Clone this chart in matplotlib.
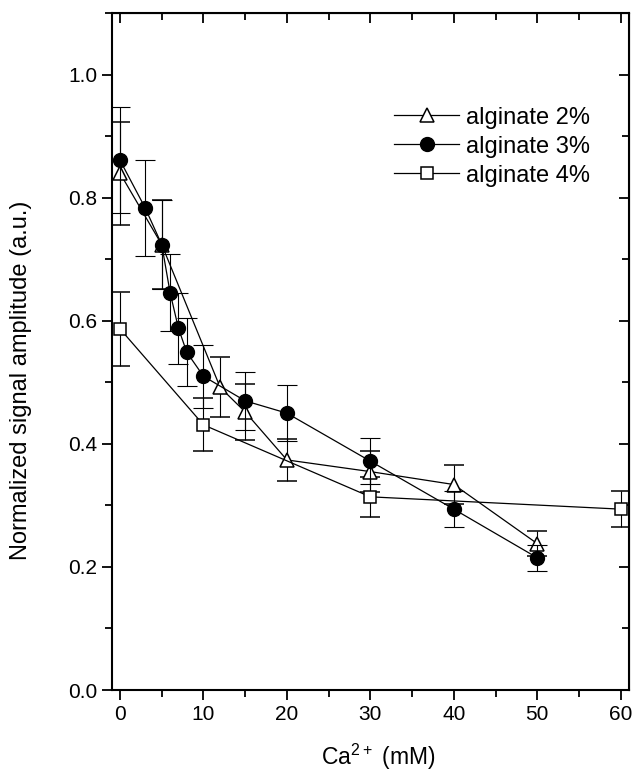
import numpy as np
import matplotlib
matplotlib.use("Agg")
import matplotlib.pyplot as plt
from matplotlib.ticker import MultipleLocator

plt.rcParams['font.family'] = ['Liberation Sans', 'DejaVu Sans']
plt.rcParams['mathtext.fontset'] = 'custom'
plt.rcParams['mathtext.rm'] = 'Liberation Sans'

# alginate 2% (open triangles)
x2 = [0, 5, 12, 15, 20, 30, 40, 50]
y2 = [0.840, 0.724, 0.492, 0.452, 0.374, 0.355, 0.334, 0.238]
e2 = [0.084, 0.072, 0.049, 0.045, 0.034, 0.033, 0.031, 0.020]

# alginate 3% (filled circles)
x3 = [0, 3, 5, 6, 7, 8, 10, 15, 20, 30, 40, 50]
y3 = [0.861, 0.784, 0.724, 0.646, 0.588, 0.549, 0.510, 0.470, 0.450, 0.372, 0.294, 0.215]
e3 = [0.086, 0.078, 0.072, 0.063, 0.058, 0.055, 0.051, 0.047, 0.045, 0.037, 0.029, 0.021]

# alginate 4% (open squares)
x4 = [0, 10, 30, 60]
y4 = [0.587, 0.431, 0.314, 0.294]
e4 = [0.060, 0.043, 0.032, 0.029]

labels = ['alginate 2%', 'alginate 3%', 'alginate 4%']

fig = plt.figure(figsize=(6.36, 7.72), dpi=100)
ax = fig.add_axes([0.1756, 0.1062, 0.8134, 0.8766])

ax.errorbar(x2, y2, yerr=e2, fmt='-', marker='^', ms=10, mfc='white', mec='black',
            mew=1.1, color='black', lw=0.9, ecolor='black', elinewidth=0.8,
            capsize=7, capthick=0.8, label=labels[0], zorder=3)
ax.errorbar(x3, y3, yerr=e3, fmt='-', marker='o', ms=10, mfc='black', mec='black',
            color='black', lw=0.9, ecolor='black', elinewidth=0.8,
            capsize=7, capthick=0.8, label=labels[1], zorder=4)
ax.errorbar(x4, y4, yerr=e4, fmt='-', marker='s', ms=8, mfc='white', mec='black',
            mew=1.1, color='black', lw=0.9, ecolor='black', elinewidth=0.8,
            capsize=7, capthick=0.8, label=labels[2], zorder=3)

ax.set_xlim(-1, 61)
ax.set_ylim(0, 1.1)
ax.xaxis.set_major_locator(MultipleLocator(10))
ax.xaxis.set_minor_locator(MultipleLocator(5))
ax.yaxis.set_major_locator(MultipleLocator(0.2))
ax.yaxis.set_minor_locator(MultipleLocator(0.1))
ax.yaxis.set_major_formatter(matplotlib.ticker.FormatStrFormatter('%.1f'))

for s in ax.spines.values():
    s.set_linewidth(1.5)
ax.tick_params(which='both', direction='out', width=1.3, labelsize=15)
ax.tick_params(which='major', length=7)
ax.tick_params(which='minor', length=5)

# inward ticks on top and right
top = ax.secondary_xaxis('top')
top.xaxis.set_major_locator(MultipleLocator(10))
top.xaxis.set_minor_locator(MultipleLocator(5))
top.tick_params(which='both', direction='in', width=1.3, labeltop=False)
top.tick_params(which='major', length=7)
top.tick_params(which='minor', length=5)
right = ax.secondary_yaxis('right')
right.yaxis.set_major_locator(MultipleLocator(0.2))
right.yaxis.set_minor_locator(MultipleLocator(0.1))
right.tick_params(which='both', direction='in', width=1.3, labelright=False)
right.tick_params(which='major', length=7)
right.tick_params(which='minor', length=5)

ax.set_xlabel('Ca$^{2+}$ (mM)', fontsize=16.5)
ax.set_ylabel('Normalized signal amplitude (a.u.)', fontsize=17)
ax.xaxis.set_label_coords(0.516, -0.076)
ax.yaxis.set_label_coords(-0.154, 0.457)

h, l = ax.get_legend_handles_labels()
h = [hh[0] for hh in h]
ax.legend(h, l, loc='center left', bbox_to_anchor=(0.546, 0.803), frameon=False,
          fontsize=17, handlelength=2.75, handletextpad=0.3, labelspacing=0.3,
          borderpad=0, borderaxespad=0)

fig.savefig('out.png', dpi=100)
